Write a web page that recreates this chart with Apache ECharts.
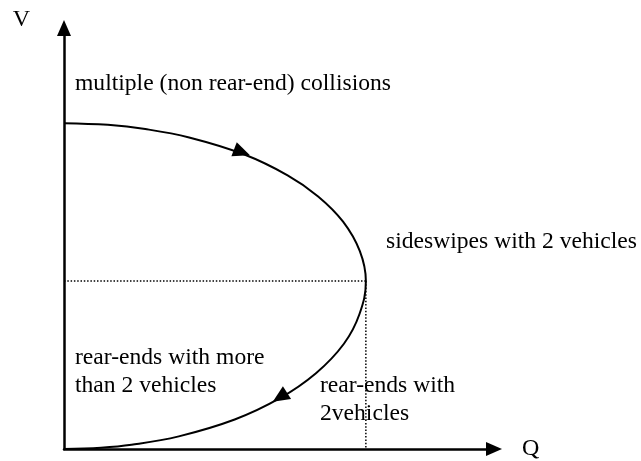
<!DOCTYPE html>
<html><head><meta charset="utf-8">
<script src="https://cdn.jsdelivr.net/npm/echarts@6/dist/echarts.min.js"></script>
<style>html,body{margin:0;padding:0;background:#fff}#c{width:641px;height:461px}</style>
</head><body><div id="c"></div>
<script>
// Speed-flow curve (Q = flow, V = speed)
const qValues = [0, 10.2, 18.9, 29.1, 41.8, 52.0, 59.1, 64.9, 68.8, 70.2, 68.7, 65.1, 58.6, 50.1, 39.7, 26.7, 15.7, 8.6, 0];
const vValues = [77.4, 77, 76, 74, 70, 65, 60, 54, 47, 39.9, 32, 25, 18, 12, 7, 3, 1, 0.3, 0];
// capacity point (nose of the curve)
const capacityQ = [70.2];
const capacityV = [39.9];
// direction arrows on the curve
const arrowQ = [41.4, 50.2];
const arrowV = [70.5, 12.3];
const arrowAngle = [-111, 123];
// texts
const axisNames = { x: 'Q', y: 'V' };
const labelTexts = [
  'multiple (non rear-end) collisions',
  'sideswipes with 2 vehicles',
  'rear-ends with more\nthan 2 vehicles',
  'rear-ends with\n2vehicles'
];

const FONT = 'Liberation Serif';
const curve = qValues.map((q, i) => [q, vValues[i]]);
const arrows = arrowQ.map((q, i) => ({ value: [q, arrowV[i]], symbolRotate: arrowAngle[i] }));
const hLine = [[0, capacityV[0]], [capacityQ[0], capacityV[0]]];
const vLine = [[capacityQ[0], capacityV[0]], [capacityQ[0], 0]];

const chart = echarts.init(document.getElementById('c'), null, { renderer: 'canvas' });
const txt = (s, left, top) => ({
  type: 'text', left: left, top: top,
  style: { text: s, font: '23.6px "' + FONT + '"', fill: '#000', lineHeight: 28 }
});
chart.setOption({
  animation: false,
  backgroundColor: '#fff',
  grid: { left: 64, right: 147, top: 28, bottom: 9, containLabel: false },
  xAxis: {
    type: 'value', min: 0, max: 100,
    name: axisNames.x, nameLocation: 'end', nameGap: 28,
    nameTextStyle: { fontFamily: FONT, fontSize: 24, color: '#000', padding: [0, 0, 22, 0] },
    axisLine: { show: true, onZero: false, symbol: ['none', 'triangle'], symbolSize: [14, 16],
      lineStyle: { color: '#000', width: 2.5 } },
    axisTick: { show: false }, axisLabel: { show: false }, splitLine: { show: false }
  },
  yAxis: {
    type: 'value', min: 0, max: 100,
    name: axisNames.y, nameLocation: 'end', nameGap: -4,
    nameTextStyle: { fontFamily: FONT, fontSize: 24, color: '#000', align: 'right', padding: [0, 34, 0, 0] },
    axisLine: { show: true, onZero: false, symbol: ['none', 'triangle'], symbolSize: [14, 16],
      lineStyle: { color: '#000', width: 2.5 } },
    axisTick: { show: false }, axisLabel: { show: false }, splitLine: { show: false }
  },
  series: [
    { type: 'line', data: hLine, symbol: 'none', lineStyle: { color: '#000', width: 1.5, type: [1.5, 1.8] }, z: 1 },
    { type: 'line', data: vLine, symbol: 'none', lineStyle: { color: '#000', width: 1.5, type: [1.5, 1.8] }, z: 1 },
    { type: 'line', data: curve, symbol: 'none', smooth: 0.4, lineStyle: { color: '#000', width: 2 }, z: 2 },
    { type: 'scatter', data: arrows, symbol: 'triangle', symbolSize: [15, 17], itemStyle: { color: '#000', opacity: 1 }, z: 3 }
  ],
  graphic: [
    txt(labelTexts[0], 75, 70),
    txt(labelTexts[1], 386, 228),
    txt(labelTexts[2], 75, 344),
    txt(labelTexts[3], 320, 372)
  ]
});
</script></body></html>
